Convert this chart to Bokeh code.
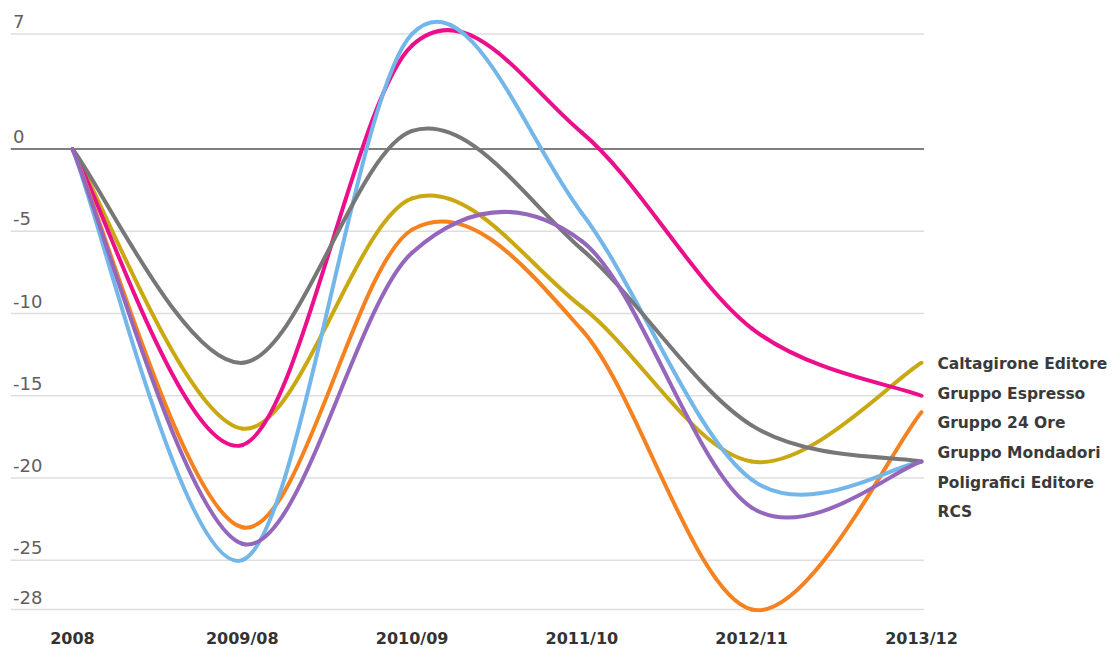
import numpy as np
from bokeh.plotting import figure
from bokeh.models import ColumnDataSource, FixedTicker, LabelSet, Range1d
from bokeh.core.properties import value
from bokeh.embed import file_html
from bokeh.resources import INLINE

# ---------------- data ----------------
categories = ["2008", "2009/08", "2010/09", "2011/10", "2012/11", "2013/12"]
series_names = ["Caltagirone Editore", "Gruppo Espresso", "Gruppo 24 Ore",
                "Gruppo Mondadori", "Poligrafici Editore", "RCS"]
caltagirone = [0, -17.0, -3.0, -9.6, -19.0, -13.0]
espresso = [0, -18.0, 6.3, 1.0, -10.9, -15.0]
ore24 = [0, -23.0, -4.9, -11.0, -28.0, -16.0]
mondadori = [0, -24.0, -6.3, -5.6, -21.8, -19.0]
poligrafici = [0, -25.0, 7.0, -3.9, -20.1, -19.0]
rcs = [0, -13.0, 1.1, -6.1, -16.8, -19.0]
y_ticks = [7, 0, -5, -10, -15, -20, -25, -28]

series_values = [caltagirone, espresso, ore24, mondadori, poligrafici, rcs]
colors = ["#c9a812", "#ec0f8c", "#f5821f", "#9467bd", "#72b6ea", "#777777"]
draw_order = [0, 1, 2, 4, 5, 3]

# ---------------- layout ----------------
W, H = 1112, 650
x_start, x_end = -0.365, 6.125
y_start, y_end = -28.18, 8.485
xs = list(range(len(categories)))

p = figure(width=W, height=H, output_backend="svg", toolbar_location=None,
           x_range=Range1d(x_start, x_end), y_range=Range1d(y_start, y_end),
           min_border_left=10, min_border_right=0, min_border_top=9,
           min_border_bottom=36, background_fill_color="white",
           border_fill_color="white")
p.outline_line_color = None
p.xgrid.grid_line_color = None
p.ygrid.grid_line_color = None
p.yaxis.visible = False

xa = p.xaxis[0]
xa.ticker = FixedTicker(ticks=xs)
xa.major_label_overrides = {i: c for i, c in enumerate(categories)}
xa.axis_line_color = None
xa.major_tick_line_color = None
xa.minor_tick_line_color = None
xa.major_tick_in = 0
xa.major_tick_out = 0
xa.major_label_standoff = 16
xa.major_label_text_font = "DejaVu Sans"
xa.major_label_text_font_style = "bold"
xa.major_label_text_font_size = "16px"
xa.major_label_text_color = "#333333"

# horizontal guide lines, ending at the last category
grid_end = xs[-1] + 0.015
gsrc = ColumnDataSource(dict(x0=[x_start] * len(y_ticks), x1=[grid_end] * len(y_ticks),
                             y=y_ticks,
                             c=["#555555" if v == 0 else "#dedede" for v in y_ticks]))
p.segment(x0="x0", y0="y", x1="x1", y1="y", source=gsrc, line_color="c",
          line_width=1.5)

# ---------------- smooth curves (Catmull-Rom as cubic beziers) ----------------
def catmull_rom(xv, yv):
    xv = np.asarray(xv, float)
    yv = np.asarray(yv, float)
    n = len(xv)
    xp = np.concatenate([[xv[0]], xv, [xv[-1]]])
    yp = np.concatenate([[yv[0]], yv, [yv[-1]]])
    return dict(
        x0=xv[:-1], y0=yv[:-1], x1=xv[1:], y1=yv[1:],
        cx0=xv[:-1] + (xp[2:n + 1] - xp[0:n - 1]) / 6.0,
        cy0=yv[:-1] + (yp[2:n + 1] - yp[0:n - 1]) / 6.0,
        cx1=xv[1:] - (xp[3:n + 2] - xp[1:n]) / 6.0,
        cy1=yv[1:] - (yp[3:n + 2] - yp[1:n]) / 6.0,
    )

for i in draw_order:
    src = ColumnDataSource(catmull_rom(xs, series_values[i]))
    p.bezier(x0="x0", y0="y0", x1="x1", y1="y1", cx0="cx0", cy0="cy0",
             cx1="cx1", cy1="cy1", source=src, line_color=colors[i],
             line_width=4, line_cap="round")

# ---------------- y labels ----------------
ysrc = ColumnDataSource(dict(x=[x_start] * len(y_ticks), y=y_ticks,
                             t=[str(v) for v in y_ticks]))
p.add_layout(LabelSet(x="x", y="y", text="t", source=ysrc, x_offset=2.5, y_offset=6,
                      text_font=value("DejaVu Sans"), text_font_size=value("18px"),
                      text_color="#606060", text_align="left",
                      text_baseline="alphabetic"))

# ---------------- end labels with simple dodge ----------------
ends = np.array([v[-1] for v in series_values], float)
order = np.argsort(-ends, kind="stable")
pos = ends[order].copy()
gap = 1.8
for _ in range(600):
    for k in range(len(pos) - 1):
        d = pos[k] - pos[k + 1]
        if d < gap:
            s = (gap - d) / 2.0
            pos[k] += s
            pos[k + 1] -= s
label_y = np.empty_like(pos)
label_y[order] = pos - 0.75
lsrc = ColumnDataSource(dict(x=[xs[-1]] * len(series_names), y=label_y,
                             t=series_names))
p.add_layout(LabelSet(x="x", y="y", text="t", source=lsrc, x_offset=16,
                      text_font=value("DejaVu Sans"), text_font_style="bold",
                      text_font_size=value("15.5px"), text_color="#3a3a3a",
                      text_align="left", text_baseline="middle"))

open("out.html", "w").write(file_html(p, INLINE))
